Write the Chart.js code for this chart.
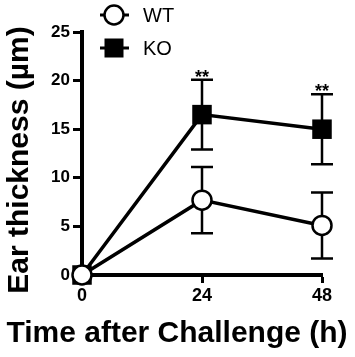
<!DOCTYPE html>
<html>
<head>
<meta charset="utf-8">
<script src="https://cdn.jsdelivr.net/npm/chart.js@4"></script>
<style>
html,body{margin:0;padding:0;background:#fff;}
canvas{display:block;}
</style>
</head>
<body>
<canvas id="c" width="355" height="357"></canvas>
<script>
// ---- data ----
const timePoints = [0, 24, 48];
const xTickValues = [0, 24, 48];
const wtMean = [0, 7.7, 5.1];
const wtErr = [0, 3.4, 3.4];
const koMean = [0, 16.5, 15.0];
const koErr = [0, 3.6, 3.6];
const significance = ['', '**', '**'];
const seriesNames = ['WT', 'KO'];
const xTitle = 'Time after Challenge (h)';
const yTitle = 'Ear thickness (µm)';

const FONT = '"Liberation Sans", Arial, Helvetica, sans-serif';

const toXY = (xs, ys) => xs.map((x, i) => ({x: x, y: ys[i]}));

const errorBars = {
  id: 'errorBars',
  beforeDatasetsDraw(chart) {
    const ctx = chart.ctx, xs = chart.scales.x, ys = chart.scales.y;
    const sets = [[wtMean, wtErr], [koMean, koErr]];
    ctx.save();
    ctx.strokeStyle = '#000';
    ctx.lineWidth = 2.5;
    sets.forEach(([m, e]) => {
      timePoints.forEach((t, i) => {
        if (!e[i]) return;
        const px = xs.getPixelForValue(t);
        const top = ys.getPixelForValue(m[i] + e[i]);
        const bot = ys.getPixelForValue(m[i] - e[i]);
        ctx.beginPath();
        ctx.moveTo(px, top); ctx.lineTo(px, bot);
        ctx.moveTo(px - 11, top); ctx.lineTo(px + 11, top);
        ctx.moveTo(px - 11, bot); ctx.lineTo(px + 11, bot);
        ctx.stroke();
      });
    });
    ctx.restore();
  },
  afterDraw(chart) {
    const ctx = chart.ctx, xs = chart.scales.x, ys = chart.scales.y;
    ctx.save();
    ctx.fillStyle = '#000';
    // significance stars
    ctx.font = 'bold 18px ' + FONT;
    ctx.textAlign = 'center';
    ctx.textBaseline = 'alphabetic';
    timePoints.forEach((t, i) => {
      if (!significance[i]) return;
      const px = xs.getPixelForValue(t);
      const top = ys.getPixelForValue(koMean[i] + koErr[i]);
      ctx.fillText(significance[i], px, top + 3);
    });
    // axis titles
    ctx.font = 'bold 30px ' + FONT;
    ctx.textAlign = 'center';
    ctx.fillText(xTitle, 177, 342);
    ctx.save();
    ctx.translate(28, 160);
    ctx.rotate(-Math.PI / 2);
    ctx.fillText(yTitle, 0, 0);
    ctx.restore();
    // legend
    const items = [{y: 15, style: 'circle'}, {y: 48, style: 'rect'}];
    ctx.font = '20px ' + FONT;
    ctx.textAlign = 'left';
    ctx.textBaseline = 'middle';
    items.forEach((it, k) => {
      ctx.strokeStyle = '#000';
      ctx.lineWidth = 3;
      ctx.beginPath();
      ctx.moveTo(100, it.y); ctx.lineTo(129, it.y);
      ctx.stroke();
      if (it.style === 'circle') {
        ctx.beginPath();
        ctx.arc(114, it.y, 9.5, 0, Math.PI * 2);
        ctx.fillStyle = '#fff';
        ctx.fill();
        ctx.lineWidth = 2.5;
        ctx.stroke();
      } else {
        ctx.fillStyle = '#000';
        ctx.fillRect(104.5, it.y - 9.5, 19, 19);
      }
      ctx.fillStyle = '#000';
      ctx.fillText(seriesNames[k], 143, it.y + 1);
    });
    ctx.restore();
  }
};

new Chart(document.getElementById('c'), {
  type: 'line',
  data: {
    datasets: [
      {
        label: seriesNames[0],
        data: toXY(timePoints, wtMean),
        borderColor: '#000',
        borderWidth: 3.5,
        pointStyle: 'circle',
        pointRadius: 9.5,
        pointBorderWidth: 2.5,
        pointBackgroundColor: '#fff',
        pointBorderColor: '#000',
        clip: false
      },
      {
        label: seriesNames[1],
        data: toXY(timePoints, koMean),
        borderColor: '#000',
        borderWidth: 3.5,
        pointStyle: 'rect',
        pointRadius: 13.8,
        pointBorderWidth: 0,
        pointBackgroundColor: '#000',
        pointBorderColor: '#000',
        clip: false
      }
    ]
  },
  options: {
    responsive: false,
    animation: false,
    devicePixelRatio: 1,
    layout: {padding: {top: 32, right: 33, left: 0, bottom: 0}},
    plugins: {legend: {display: false}, tooltip: {enabled: false}},
    scales: {
      x: {
        type: 'linear',
        min: 0, max: 48,
        afterFit(s) { s.height = 82; },
        afterBuildTicks(s) { s.ticks = xTickValues.map(v => ({value: v})); },
        grid: {drawOnChartArea: false, drawTicks: true, tickLength: 8, tickWidth: 3, tickColor: '#000'},
        border: {color: '#000', width: 4},
        ticks: {color: '#000', font: {family: FONT, size: 18, weight: 'bold'}, padding: 2, maxRotation: 0}
      },
      y: {
        min: 0, max: 25,
        afterFit(s) { s.width = 82; },
        grid: {drawOnChartArea: false, drawTicks: true, tickLength: 9, tickWidth: 3, tickColor: '#000'},
        border: {color: '#000', width: 4},
        ticks: {stepSize: 5, color: '#000', font: {family: FONT, size: 17, weight: 'bold'}, padding: 3}
      }
    }
  },
  plugins: [errorBars]
});
</script>
</body>
</html>
